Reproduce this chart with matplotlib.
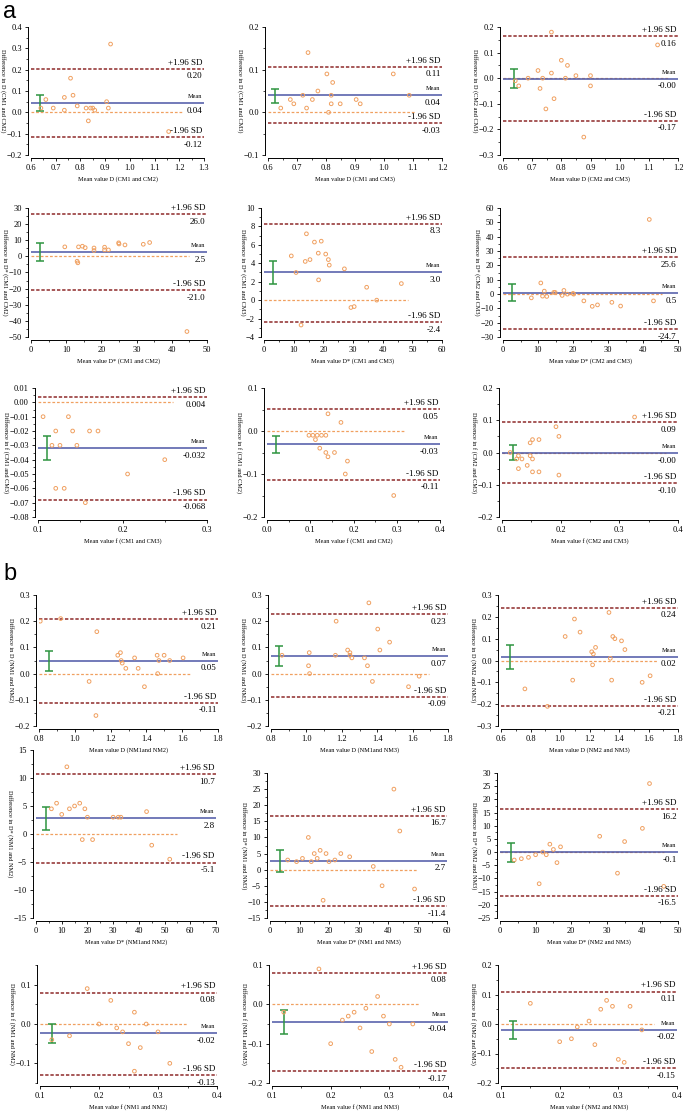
import matplotlib
matplotlib.use("Agg")
import matplotlib.pyplot as plt
from matplotlib.ticker import MultipleLocator, AutoMinorLocator

plt.rcParams['font.family'] = ['Liberation Serif', 'DejaVu Serif']

W, H = 685, 1112
RED = '#8E2A2A'
BLUE = '#4B56A6'
ORANGE = '#F0A060'
GREEN = '#2E9440'

# ---------------- data, part a (CM) ----------------
a1_x = [0.64, 0.66, 0.69, 0.735, 0.735, 0.76, 0.77, 0.787, 0.823, 0.832, 0.841, 0.85, 0.858, 0.906, 0.913, 0.922, 1.157]
a1_y = [0.02, 0.06, 0.02, 0.07, 0.01, 0.16, 0.08, 0.03, 0.02, -0.04, 0.02, 0.02, 0.01, 0.05, 0.02, 0.32, -0.09]
a2_x = [0.644, 0.677, 0.689, 0.72, 0.733, 0.738, 0.753, 0.772, 0.803, 0.809, 0.818, 0.818, 0.823, 0.849, 0.904, 0.918, 1.032, 1.087]
a2_y = [0.01, 0.03, 0.02, 0.04, 0.01, 0.14, 0.03, 0.05, 0.09, 0.0, 0.04, 0.02, 0.07, 0.02, 0.03, 0.02, 0.09, 0.04]
a3_x = [0.642, 0.654, 0.686, 0.72, 0.727, 0.736, 0.747, 0.766, 0.766, 0.775, 0.8, 0.814, 0.821, 0.85, 0.9, 0.9, 0.877, 1.13]
a3_y = [-0.01, -0.03, 0.0, 0.03, -0.04, 0.0, -0.12, 0.18, 0.02, -0.08, 0.07, 0.0, 0.05, 0.01, 0.01, -0.03, -0.23, 0.13]
a4_x = [9.6, 13.1, 13.3, 13.5, 14.6, 15.4, 17.9, 17.9, 20.9, 20.9, 22.0, 24.9, 25.0, 26.7, 31.9, 33.7, 44.3]
a4_y = [5.9, -3.0, -4.0, 5.9, 6.3, 5.4, 5.2, 3.6, 5.7, 4.0, 4.0, 8.4, 7.7, 7.1, 7.5, 8.6, -46.6]
a5_x = [9.2, 10.8, 12.5, 13.9, 14.3, 15.5, 17.0, 18.3, 18.4, 19.3, 20.8, 21.7, 22.0, 27.1, 29.3, 30.4, 34.6, 38.0, 46.3]
a5_y = [4.8, 3.0, -2.7, 4.2, 7.2, 4.4, 6.3, 5.1, 2.2, 6.4, 5.0, 4.4, 3.8, 3.4, -0.8, -0.7, 1.4, 0.0, 1.8]
a6_x = [8.1, 10.8, 11.3, 11.8, 12.5, 14.5, 14.9, 16.9, 17.4, 18.4, 20.0, 20.2, 23.1, 25.5, 27.0, 31.1, 33.6, 41.8, 43.0]
a6_y = [-2.7, 7.7, -1.5, 2.0, -1.7, 1.1, 1.1, -1.0, 2.5, -0.1, 0.4, -0.1, -4.8, -8.6, -7.6, -5.8, -8.4, 52.0, -4.8]
a7_x = [0.106, 0.1165, 0.121, 0.121, 0.126, 0.131, 0.136, 0.141, 0.146, 0.156, 0.161, 0.171, 0.206, 0.25]
a7_y = [-0.01, -0.03, -0.02, -0.06, -0.03, -0.06, -0.01, -0.02, -0.03, -0.07, -0.02, -0.02, -0.05, -0.04]
a8_x = [0.097, 0.106, 0.116, 0.126, 0.136, 0.112, 0.122, 0.136, 0.141, 0.141, 0.156, 0.171, 0.181, 0.186, 0.293]
a8_y = [-0.01, -0.01, -0.01, -0.01, -0.01, -0.02, -0.04, -0.05, -0.06, 0.04, -0.05, 0.02, -0.10, -0.07, -0.15]
a9_x = [0.114, 0.125, 0.128, 0.128, 0.134, 0.143, 0.148, 0.148, 0.152, 0.152, 0.152, 0.163, 0.163, 0.192, 0.197, 0.197, 0.326]
a9_y = [0.0, -0.02, -0.01, -0.05, -0.02, -0.04, 0.03, -0.01, 0.04, -0.02, -0.06, 0.04, -0.06, 0.08, 0.05, -0.07, 0.11]

# ---------------- data, part b (NM) ----------------
b1_x = [0.807, 0.921, 1.123, 1.08, 1.118, 1.24, 1.255, 1.259, 1.265, 1.285, 1.334, 1.354, 1.389, 1.46, 1.463, 1.47, 1.499, 1.53, 1.605]
b1_y = [0.2, 0.21, 0.16, -0.03, -0.16, 0.07, 0.08, 0.05, 0.04, 0.02, 0.06, 0.02, -0.05, 0.07, 0.0, 0.05, 0.07, 0.05, 0.06]
b2_x = [0.862, 1.016, 1.012, 1.018, 1.164, 1.168, 1.233, 1.246, 1.246, 1.257, 1.328, 1.345, 1.353, 1.373, 1.403, 1.415, 1.47, 1.577, 1.637]
b2_y = [0.07, 0.08, 0.03, 0.0, 0.07, 0.2, 0.09, 0.08, 0.07, 0.06, 0.06, 0.03, 0.27, -0.03, 0.17, 0.09, 0.12, -0.05, -0.01]
b3_x = [0.762, 0.915, 1.035, 1.086, 1.098, 1.136, 1.215, 1.226, 1.221, 1.241, 1.332, 1.341, 1.35, 1.358, 1.372, 1.417, 1.44, 1.557, 1.611]
b3_y = [-0.13, -0.21, 0.11, -0.09, 0.19, 0.13, 0.04, 0.03, -0.02, 0.06, 0.22, 0.01, -0.09, 0.11, 0.10, 0.09, 0.05, -0.10, -0.07]
b4_x = [6, 8, 10, 12, 13, 15, 17, 18, 19, 20, 22, 30, 32, 33, 43, 45, 52]
b4_y = [4.5, 5.5, 3.5, 12.0, 4.5, 5, 5.5, -1, 4.5, 3, -1, 3, 3, 3, 4, -2, -4.5]
b5_x = [6, 9, 11, 13, 14, 15, 16, 17, 18, 19, 20, 22, 24, 27, 35, 38, 42, 44, 49]
b5_y = [3, 2.5, 3.5, 10, 2.5, 5, 3.5, 6, -9.5, 5, 2.5, 3, 5, 4, 1, -5, 25, 12, -6]
b6_x = [4, 6, 8, 10, 11, 12, 13, 14, 15, 16, 17, 28, 33, 35, 40, 42, 46]
b6_y = [-3, -2.5, -2, -1, -12, 0, -1, 3, 1, -4, 2, 6, -8, 4, 9, 26, -13]
b7_x = [0.12, 0.15, 0.18, 0.2, 0.22, 0.23, 0.24, 0.25, 0.26, 0.26, 0.27, 0.28, 0.3, 0.32]
b7_y = [-0.04, -0.03, 0.09, 0.0, 0.06, -0.01, -0.02, -0.05, -0.12, 0.03, -0.06, 0.0, -0.02, -0.10]
b8_x = [0.12, 0.18, 0.2, 0.22, 0.23, 0.24, 0.25, 0.26, 0.27, 0.28, 0.29, 0.3, 0.31, 0.32, 0.34]
b8_y = [-0.02, 0.09, -0.10, -0.04, -0.03, -0.02, -0.06, -0.01, -0.12, 0.02, -0.03, -0.05, -0.14, -0.16, -0.05]
b9_x = [0.15, 0.2, 0.22, 0.23, 0.25, 0.26, 0.27, 0.28, 0.29, 0.3, 0.31, 0.32, 0.34]
b9_y = [0.07, -0.06, -0.05, -0.01, 0.01, -0.07, 0.05, 0.08, 0.06, -0.12, -0.13, 0.06, -0.02]

# (mean, +1.96 SD, -1.96 SD) and 95% CI of mean (x, hi, lo)
a1_stats, a1_ci = (0.043, 0.203, -0.117), (0.636, 0.08, 0.005)
a2_stats, a2_ci = (0.040, 0.107, -0.026), (0.625, 0.055, 0.022)
a3_stats, a3_ci = (-0.003, 0.164, -0.167), (0.637, 0.037, -0.04)
a4_stats, a4_ci = (2.5, 26.0, -21.0), (2.55, 8.0, -2.7)
a5_stats, a5_ci = (3.0, 8.3, -2.4), (3.1, 4.2, 1.7)
a6_stats, a6_ci = (0.5, 25.6, -24.7), (2.6, 6.8, -5.2)
a7_stats, a7_ci = (-0.032, 0.0036, -0.0678), (0.111, -0.0236, -0.040)
a8_stats, a8_ci = (-0.031, 0.051, -0.113), (0.021, -0.012, -0.051)
a9_stats, a9_ci = (-0.003, 0.094, -0.096), (0.119, 0.022, -0.023)
b1_stats, b1_ci = (0.048, 0.207, -0.112), (0.858, 0.087, 0.011)
b2_stats, b2_ci = (0.067, 0.226, -0.089), (0.847, 0.104, 0.029)
b3_stats, b3_ci = (0.016, 0.241, -0.207), (0.663, 0.069, -0.037)
b4_stats, b4_ci = (2.8, 10.7, -5.1), (4.0, 4.8, 0.8)
b5_stats, b5_ci = (2.7, 16.7, -11.4), (3.5, 6.0, -0.8)
b6_stats, b6_ci = (-0.1, 16.2, -16.5), (3.0, 3.5, -3.7)
b7_stats, b7_ci = (-0.024, 0.08, -0.13), (0.12, 0.0, -0.048)
b8_stats, b8_ci = (-0.044, 0.08, -0.17), (0.12, -0.015, -0.075)
b9_stats, b9_ci = (-0.02, 0.11, -0.15), (0.12, 0.01, -0.05)

panels = [
    # x, y, stats, dec, ci, zero_end, xlim, xstep, ylim, ystep, xlabel, ylabel, rect(px: left, right, top, bottom)
    (a1_x, a1_y, a1_stats, 2, a1_ci, 1.21, (0.6, 1.3), 0.1, (-0.2, 0.4), 0.1, 'Mean value D (CM1 and CM2)', 'Difference in D (CM1 and CM2)', (31, 204, 27, 155)),
    (a2_x, a2_y, a2_stats, 2, a2_ci, 1.11, (0.6, 1.2), 0.1, (-0.1, 0.2), 0.1, 'Mean value D (CM1 and CM3)', 'Difference in D (CM1 and CM3)', (268, 442, 27, 155)),
    (a3_x, a3_y, a3_stats, 2, a3_ci, 1.17, (0.6, 1.2), 0.1, (-0.3, 0.2), 0.1, 'Mean value D (CM2 and CM3)', 'Difference in D (CM2 and CM3)', (503, 678, 27, 155)),
    (a4_x, a4_y, a4_stats, 1, a4_ci, 45.0, (0, 50), 10, (-50, 30), 10, 'Mean value D* (CM1 and CM2)', 'Difference in D* (CM1 and CM2)', (31, 207, 208, 337)),
    (a5_x, a5_y, a5_stats, 1, a5_ci, 48.7, (0, 60), 10, (-4, 10), 2, 'Mean value D* (CM1 and CM3)', 'Difference in D* (CM1 and CM3)', (264, 442, 208, 337)),
    (a6_x, a6_y, a6_stats, 1, a6_ci, 45.4, (0, 50), 10, (-30, 60), 10, 'Mean value D* (CM2 and CM3)', 'Difference in D* (CM2 and CM3)', (503, 678, 208, 337)),
    (a7_x, a7_y, a7_stats, 3, a7_ci, 0.26, (0.1, 0.3), 0.1, (-0.08, 0.01), 0.01, 'Mean value f (CM1 and CM3)', 'Difference in f (CM1 and CM3)', (38, 207, 388, 517)),
    (a8_x, a8_y, a8_stats, 2, a8_ci, 0.32, (0.0, 0.4), 0.1, (-0.2, 0.1), 0.1, 'Mean value f (CM1 and CM2)', 'Difference in f (CM1 and CM2)', (267, 440, 388, 517)),
    (a9_x, a9_y, a9_stats, 2, a9_ci, 0.38, (0.1, 0.4), 0.1, (-0.2, 0.2), 0.1, 'Mean value f (CM2 and CM3)', 'Difference in f (CM2 and CM3)', (502, 678, 388, 517)),
    (b1_x, b1_y, b1_stats, 2, b1_ci, 1.65, (0.8, 1.8), 0.2, (-0.2, 0.3), 0.1, 'Mean value D (NM1and NM2)', 'Difference in D (NM1 and NM2)', (39, 218, 595, 726)),
    (b2_x, b2_y, b2_stats, 2, b2_ci, 1.69, (0.8, 1.8), 0.2, (-0.2, 0.3), 0.1, 'Mean value D (NM1and NM3)', 'Difference in D (NM1 and NM3)', (271, 448, 595, 726)),
    (b3_x, b3_y, b3_stats, 2, b3_ci, 1.66, (0.6, 1.8), 0.2, (-0.3, 0.3), 0.1, 'Mean value D (NM2 and NM3)', 'Difference in D (NM2 and NM3)', (501, 678, 595, 726)),
    (b4_x, b4_y, b4_stats, 1, b4_ci, 55, (0, 70), 10, (-15, 15), 5, 'Mean value D* (NM1and NM2)', 'Difference in D* (NM1 and NM2)', (36, 216, 750, 918)),
    (b5_x, b5_y, b5_stats, 1, b5_ci, 50, (0, 60), 10, (-15, 30), 5, 'Mean value D* (NM1 and NM3)', 'Difference in D* (NM1 and NM3)', (270, 447, 773, 918)),
    (b6_x, b6_y, b6_stats, 1, b6_ci, 46, (0, 50), 10, (-25, 30), 5, 'Mean value D* (NM2 and NM3)', 'Difference in D* (NM2 and NM3)', (500, 678, 773, 918)),
    (b7_x, b7_y, b7_stats, 2, b7_ci, 0.35, (0.1, 0.4), 0.1, (-0.15, 0.15), 0.1, 'Mean value f (NM1 and NM2)', 'Difference in f (NM1 and NM2)', (40, 217, 965, 1083)),
    (b8_x, b8_y, b8_stats, 2, b8_ci, 0.35, (0.1, 0.4), 0.1, (-0.2, 0.1), 0.1, 'Mean value f (NM1 and NM3)', 'Difference in f (NM1 and NM3)', (272, 448, 965, 1083)),
    (b9_x, b9_y, b9_stats, 2, b9_ci, 0.36, (0.1, 0.4), 0.1, (-0.2, 0.2), 0.1, 'Mean value f (NM2 and NM3)', 'Difference in f (NM2 and NM3)', (501, 677, 965, 1083)),
]


def ba_panel(ax, x, y, stats, dec, ci, zero_end, xlim, xstep, ylim, ystep, xlab, ylab):
    mean, up, lo = stats
    ax.set_xlim(xlim)
    ax.set_ylim(ylim)
    ax.axhline(up, color=RED, ls=(0, (2.2, 1.2)), lw=1.1)
    ax.axhline(lo, color=RED, ls=(0, (2.2, 1.2)), lw=1.1)
    ax.plot([xlim[0], zero_end], [0, 0], color=ORANGE, ls=(0, (2.2, 1.5)), lw=0.9)
    ax.axhline(mean, color=BLUE, lw=1.1)
    ax.errorbar([ci[0]], [(ci[1] + ci[2]) / 2], yerr=[(ci[1] - ci[2]) / 2],
                color=GREEN, lw=1.1, capsize=3, capthick=1.1)
    ax.scatter(x, y, s=7, facecolors='none', edgecolors=ORANGE, linewidths=0.7, zorder=3)

    fmt = '{:.%df}' % dec
    kw = dict(xycoords=('axes fraction', 'data'), textcoords='offset points', ha='right')
    ax.annotate('+1.96 SD', xy=(1, up), xytext=(-1, 1.5), va='bottom', fontsize=6.5, **kw)
    ax.annotate(fmt.format(up), xy=(1, up), xytext=(-1, -2.5), va='top', fontsize=6.5, **kw)
    ax.annotate('Mean', xy=(1, mean), xytext=(-1, 3), va='bottom', fontsize=4.5, **kw)
    ax.annotate(fmt.format(mean), xy=(1, mean), xytext=(-1, -2.5), va='top', fontsize=6.5, **kw)
    ax.annotate('-1.96 SD', xy=(1, lo), xytext=(-1, 1.5), va='bottom', fontsize=6.5, **kw)
    ax.annotate(fmt.format(lo), xy=(1, lo), xytext=(-1, -2.5), va='top', fontsize=6.5, **kw)

    ax.xaxis.set_major_locator(MultipleLocator(xstep))
    ax.yaxis.set_major_locator(MultipleLocator(ystep))
    ax.xaxis.set_minor_locator(AutoMinorLocator(2))
    ax.yaxis.set_minor_locator(AutoMinorLocator(2))
    ax.tick_params(which='major', direction='out', length=2.5, width=0.6, labelsize=6, pad=1.5)
    ax.tick_params(which='minor', direction='out', length=1.5, width=0.5)
    for s in ('top', 'right'):
        ax.spines[s].set_visible(False)
    for s in ('left', 'bottom'):
        ax.spines[s].set_position(('outward', 2.5))
        ax.spines[s].set_linewidth(0.7)
    ax.set_xlabel(xlab, fontsize=4.5, labelpad=3)
    ax.set_ylabel(ylab, fontsize=4.5, rotation=270, labelpad=4.5)
    ax.patch.set_alpha(0)


fig = plt.figure(figsize=(W / 100, H / 100), dpi=100)
for p in panels:
    l, r, t, b = p[-1]
    ax = fig.add_axes([l / W, 1 - b / H, (r - l) / W, (b - t) / H])
    ba_panel(ax, *p[:-1])

fig.text(3 / W, 1 - 1 / H, 'a', fontsize=17, va='top', ha='left', family='Liberation Sans')
fig.text(3 / W, 1 - 563 / H, 'b', fontsize=17, va='top', ha='left', family='Liberation Sans')

fig.savefig('out.png', dpi=100)
